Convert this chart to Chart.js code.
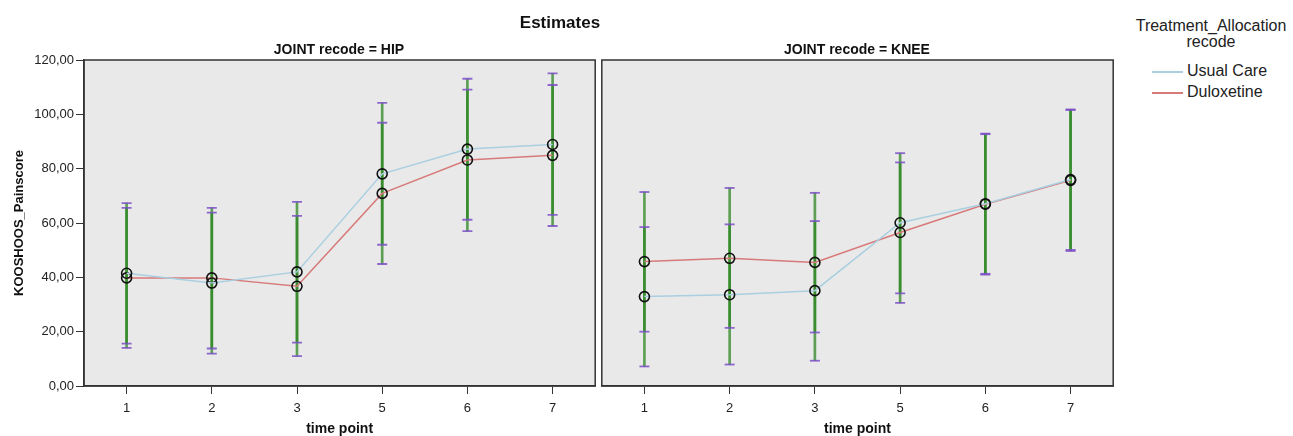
<!DOCTYPE html>
<html>
<head>
<meta charset="utf-8">
<script src="https://cdn.jsdelivr.net/npm/chart.js@4"></script>
<style>
  body { margin: 0; background: #fff; font-family: 'Liberation Sans', Arial, sans-serif; }
  #page { position: relative; width: 1293px; height: 436px; overflow: hidden; }
  canvas { position: absolute; top: 0; }
  .txt { position: absolute; color: #111; white-space: nowrap; }
  #title { left: 0; width: 1120px; top: 13px; text-align: center; font-weight: bold; font-size: 17px; line-height: 20px; }
  .panelTitle { top: 41px; width: 510px; text-align: center; font-weight: bold; font-size: 14px; line-height: 16px; }
  #legTitle { left: 1120px; width: 182px; top: 18px; text-align: center; font-size: 16px; line-height: 16px; color: #222; }
  .legItem { left: 1152px; font-size: 16px; line-height: 18px; color: #222; }
  .legItem span { display: inline-block; width: 31px; height: 2px; vertical-align: middle; margin-right: 4px; }
</style>
</head>
<body>
<div id="page">
  <canvas id="hipChart" width="602" height="436" style="left:0"></canvas>
  <canvas id="kneeChart" width="525" height="436" style="left:595px"></canvas>
  <div class="txt" id="title">Estimates</div>
  <div class="txt panelTitle" style="left:84px">JOINT recode = HIP</div>
  <div class="txt panelTitle" style="left:602px">JOINT recode = KNEE</div>
  <div class="txt" id="legTitle">Treatment_Allocation<br>recode</div>
  <div class="txt legItem" style="top:62px"><span style="background:#a9cfe0"></span>Usual Care</div>
  <div class="txt legItem" style="top:83px"><span style="background:#d77a7a"></span>Duloxetine</div>
</div>
<script>
// categorias del eje x
const timeLabels = ['1', '2', '3', '5', '6', '7'];

// HIP - medias e intervalos
const hipUsual = [41.5, 37.9, 42.0, 78.1, 87.2, 88.9];
const hipUsualLow = [15.6, 11.9, 16.0, 52.0, 61.2, 63.0];
const hipUsualHigh = [67.3, 63.8, 67.8, 104.2, 113.1, 115.1];
const hipDulox = [39.8, 39.8, 36.7, 70.9, 83.2, 84.9];
const hipDuloxLow = [14.0, 13.8, 11.0, 44.9, 57.0, 58.9];
const hipDuloxHigh = [65.6, 65.6, 62.6, 96.9, 109.1, 110.8];

// KNEE - medias e intervalos
const kneeUsual = [32.9, 33.6, 35.1, 60.1, 67.1, 76.0];
const kneeUsualLow = [7.2, 7.9, 9.3, 34.1, 41.3, 50.1];
const kneeUsualHigh = [58.5, 59.5, 60.7, 85.7, 92.9, 101.8];
const kneeDulox = [45.8, 47.0, 45.5, 56.5, 66.9, 75.7];
const kneeDuloxLow = [20.0, 21.4, 19.7, 30.6, 41.0, 49.7];
const kneeDuloxHigh = [71.4, 72.9, 71.1, 82.3, 92.7, 101.6];

const usualColor = '#a9cfe0';
const duloxColor = '#d77a7a';
const barColor = 'rgba(45, 135, 35, 0.75)';
const capColor = 'rgba(125, 80, 200, 0.85)';

Chart.defaults.font.family = "'Liberation Sans', Arial, sans-serif";
Chart.defaults.color = '#222';

// fondo gris y marco del panel
const panelFrame = {
    id: 'panelFrame',
    beforeDraw(chart) {
        const a = chart.chartArea;
        const ctx = chart.ctx;
        ctx.save();
        ctx.fillStyle = '#e9e9e9';
        ctx.fillRect(a.left, a.top, a.right - a.left, a.bottom - a.top);
        ctx.restore();
    },
    afterDraw(chart) {
        const a = chart.chartArea;
        const ctx = chart.ctx;
        ctx.save();
        ctx.strokeStyle = '#333';
        ctx.lineWidth = 1.5;
        ctx.strokeRect(a.left, a.top, a.right - a.left, a.bottom - a.top);
        ctx.restore();
    }
};

function seriesLine(label, data, color) {
    return {
        type: 'line',
        label: label,
        data: data,
        borderColor: color,
        borderWidth: 1.5,
        pointRadius: 5,
        pointBorderColor: '#111',
        pointBackgroundColor: 'rgba(0,0,0,0)',
        pointBorderWidth: 1.6,
        order: 0
    };
}

function errorBar(low, high) {
    return {
        type: 'bar',
        data: low.map((v, i) => [v, high[i]]),
        backgroundColor: barColor,
        barThickness: 2,
        grouped: false,
        order: 2
    };
}

function caps(values) {
    return {
        type: 'line',
        data: values,
        showLine: false,
        pointStyle: 'line',
        pointRadius: 5,
        pointBorderColor: capColor,
        pointBorderWidth: 1.8,
        order: 1
    };
}

function buildPanel(id, usual, usualLow, usualHigh, dulox, duloxLow, duloxHigh, showY) {
    const ctx = document.getElementById(id).getContext('2d');
    const yAxis = {
        display: showY,
        min: 0,
        max: 120,
        grid: { drawOnChartArea: false, drawTicks: true, tickLength: 8, color: '#333' },
        border: { color: '#333', width: 1.5 },
        ticks: {
            stepSize: 20,
            font: { size: 13 },
            padding: 2,
            color: '#222',
            callback: v => v.toFixed(2).replace('.', ',')
        },
        title: { display: true, text: 'KOOSHOOS_Painscore', font: { size: 13, weight: 'bold' }, color: '#111', padding: { top: 12, bottom: 0 } }
    };
    if (showY) {
        yAxis.afterFit = scale => { scale.width = 84; };
    }
    return new Chart(ctx, {
        type: 'line',
        data: {
            labels: timeLabels,
            datasets: [
                seriesLine('Usual Care', usual, usualColor),
                seriesLine('Duloxetine', dulox, duloxColor),
                errorBar(usualLow, usualHigh),
                errorBar(duloxLow, duloxHigh),
                caps(usualLow), caps(usualHigh),
                caps(duloxLow), caps(duloxHigh)
            ]
        },
        options: {
            responsive: false,
            animation: false,
            layout: {
                padding: { top: 60, right: 0, left: showY ? 0 : 4, bottom: 0 }
            },
            plugins: {
                legend: { display: false },
                tooltip: { enabled: false }
            },
            scales: {
                x: {
                    offset: true,
                    grid: { drawOnChartArea: false, drawTicks: true, tickLength: 8, color: '#333', offset: false },
                    border: { color: '#333', width: 1.5 },
                    ticks: { font: { size: 13 }, padding: 7, color: '#222' },
                    title: { display: true, text: 'time point', font: { size: 14, weight: 'bold' }, color: '#111', padding: { top: 0, bottom: -2 } },
                    afterFit(scale) { scale.height = 50; }
                },
                y: yAxis
            }
        },
        plugins: [panelFrame]
    });
}

buildPanel('hipChart', hipUsual, hipUsualLow, hipUsualHigh, hipDulox, hipDuloxLow, hipDuloxHigh, true);
buildPanel('kneeChart', kneeUsual, kneeUsualLow, kneeUsualHigh, kneeDulox, kneeDuloxLow, kneeDuloxHigh, false);
</script>
</body>
</html>
